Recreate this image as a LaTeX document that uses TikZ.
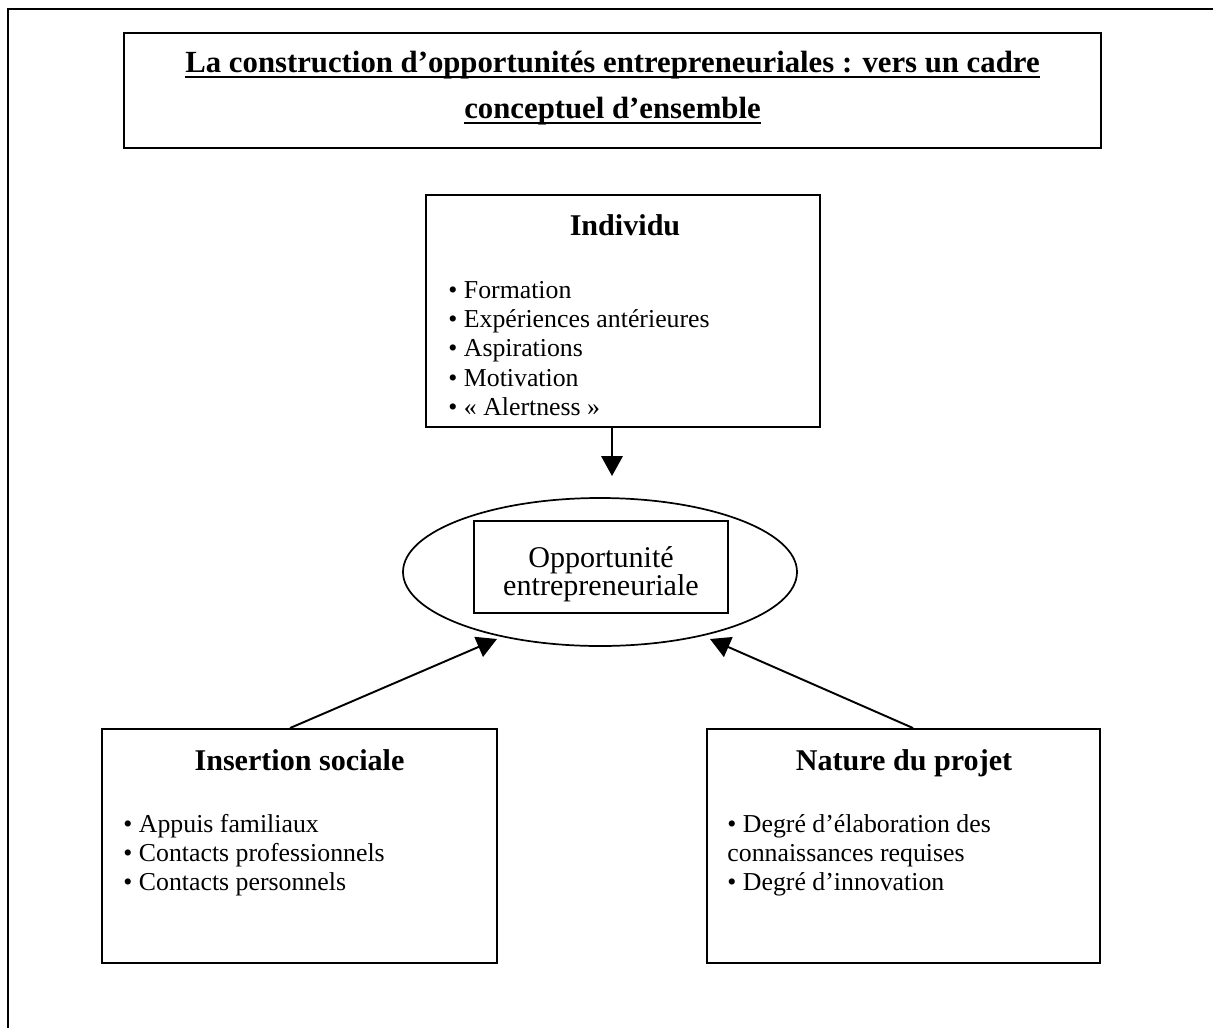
\documentclass[tikz,border=0pt]{standalone}
\usepackage{fontspec}
\setmainfont{Liberation Serif}
\usetikzlibrary{shapes.geometric,arrows.meta}
\newcommand{\pxu}{0.465pt}
\begin{document}
\begin{tikzpicture}[x=0.465pt,y=-0.465pt,
  boxline/.style={draw=black,line width=0.9pt,inner sep=0pt},
  frameline/.style={draw=black,line width=0.9pt},
  ulline/.style={draw=black,line width=1pt},
  arr/.style={draw=black,line width=0.9pt,-{Triangle[length=9.3pt,width=10pt]}},
  titletext/.style={inner sep=0pt,anchor=base,font=\fontsize{14.3pt}{16pt}\selectfont\bfseries},
  headtext/.style={inner sep=0pt,anchor=base,font=\fontsize{14pt}{16pt}\selectfont\bfseries},
  oppt/.style={inner sep=0pt,anchor=base,font=\fontsize{14pt}{16pt}\selectfont},
  itemtext/.style={inner sep=0pt,anchor=base west,font=\fontsize{12pt}{13.6pt}\selectfont}]
\useasboundingbox (0,0) rectangle (1213,1028);
% outer frame (only top and left edges are visible)
\coordinate (fr1) at (8,1028);
\coordinate (fr2) at (8,9);
\coordinate (fr3) at (1213,9);
\draw[frameline] (fr1) -- (fr2) -- (fr3);
% title
\node[boxline,rectangle,minimum width=977*\pxu,minimum height=115*\pxu] (title) at (612.5,90.5) {};
\node[titletext] (tl1) at (612.5,72) {La construction d’opportunités entrepreneuriales : vers un cadre};
\node[titletext] (tl2) at (612.5,118) {conceptuel d’ensemble};
\draw[ulline] ([yshift=-2.2pt]tl1.base west) -- ([yshift=-2.2pt]tl1.base east);
\draw[ulline] ([yshift=-2.2pt]tl2.base west) -- ([yshift=-2.2pt]tl2.base east);
% Individu
\node[boxline,rectangle,minimum width=394*\pxu,minimum height=232*\pxu] (indiv) at (623,311) {};
\node[headtext] (indivh) at (625,235) {Individu};
\node[itemtext] (i1) at (448,298) {• Formation};
\node[itemtext] (i2) at (448,327.3) {• Expériences antérieures};
\node[itemtext] (i3) at (448,356.6) {• Aspirations};
\node[itemtext] (i4) at (448,386) {• Motivation};
\node[itemtext] (i5) at (448,415) {• « Alertness »};
% Opportunité
\node[boxline,ellipse,line width=0.8pt,minimum width=394*\pxu,minimum height=148*\pxu] (ell) at (600,572) {};
\node[boxline,rectangle,line width=0.8pt,minimum width=254*\pxu,minimum height=92*\pxu] (opp) at (601,567) {};
\node[oppt] (o1) at (601,567) {Opportunité};
\node[oppt] (o2) at (601,595) {entrepreneuriale};
% Insertion sociale
\node[boxline,rectangle,minimum width=395*\pxu,minimum height=234*\pxu] (ins) at (299.5,846) {};
\node[headtext] (insh) at (299.5,770) {Insertion sociale};
\node[itemtext] (s1) at (123,832) {• Appuis familiaux};
\node[itemtext] (s2l) at (123,861) {• Contacts professionnels};
\node[itemtext] (s3l) at (123,890) {• Contacts personnels};
% Nature du projet
\node[boxline,rectangle,minimum width=393*\pxu,minimum height=234*\pxu] (nat) at (903.5,846) {};
\node[headtext] (nath) at (904,770) {Nature du projet};
\node[itemtext] (n1) at (727,832) {• Degré d’élaboration des};
\node[itemtext] (n2) at (727,861) {connaissances requises};
\node[itemtext] (n3) at (727,890) {• Degré d’innovation};
% connectors
\coordinate (t1) at (612,476);
\draw[arr] (indiv.south -| t1) -- (t1);
\coordinate (s2) at (290,729);
\coordinate (t2) at (497,639);
\draw[arr] (ins.north -| s2) -- (t2);
\coordinate (s3) at (913,729);
\coordinate (t3) at (710,639);
\draw[arr] (nat.north -| s3) -- (t3);
\end{tikzpicture}
\end{document}
